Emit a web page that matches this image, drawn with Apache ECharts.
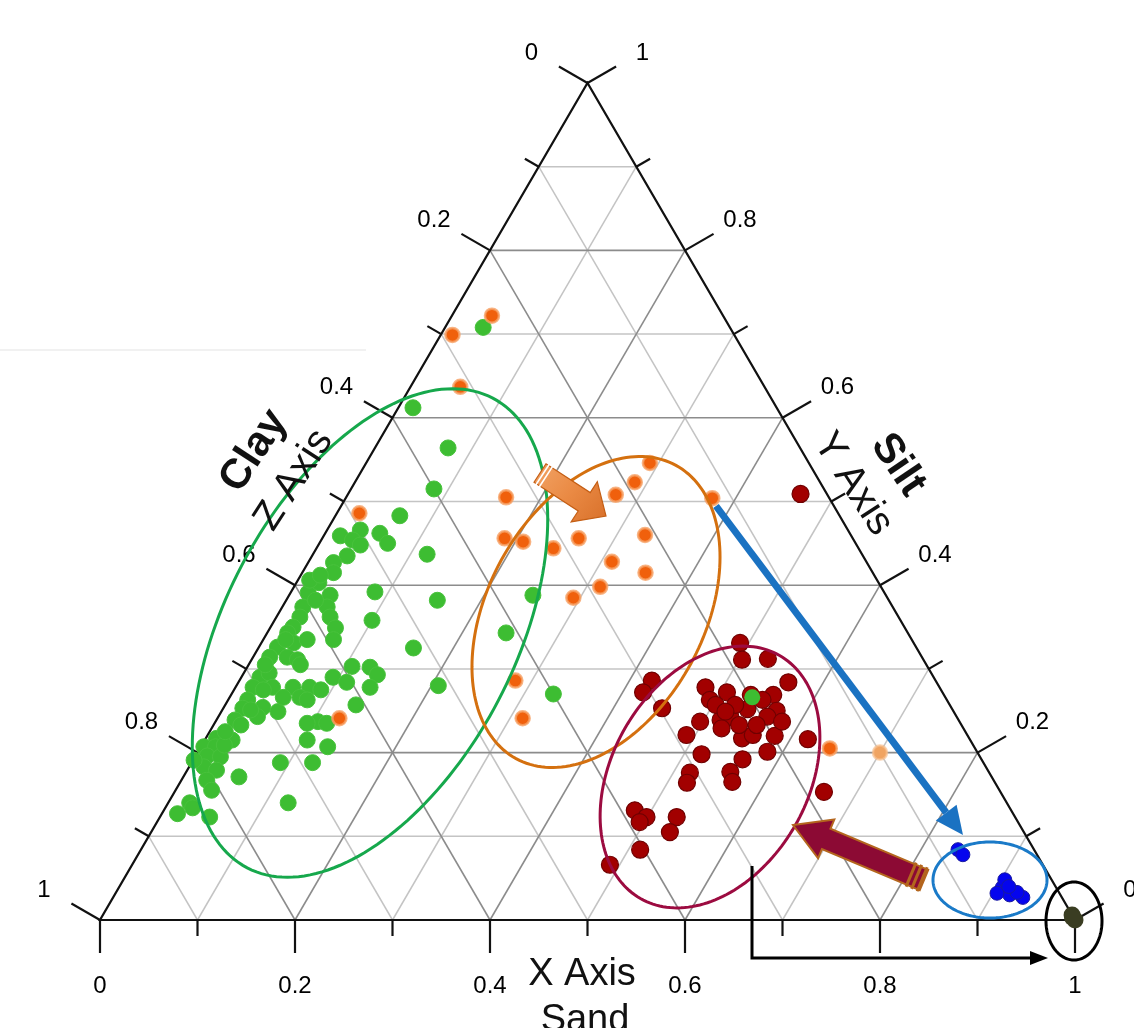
<!DOCTYPE html>
<html><head><meta charset="utf-8">
<script src="https://cdn.jsdelivr.net/npm/echarts@6/dist/echarts.min.js"></script>
<style>html,body{margin:0;padding:0;background:#fff}#c{width:1134px;height:1028px}</style>
</head><body><div id="c"></div>
<script>
// ---- Ternary data: [Sand, Silt] (Clay = 1 - Sand - Silt) ----
const tickValues = [0,0.1,0.2,0.3,0.4,0.5,0.6,0.7,0.8,0.9,1];
const gridValues = [0.1,0.2,0.3,0.4,0.5,0.6,0.7,0.8,0.9];
const labelValues = [0,0.2,0.4,0.6,0.8,1];
const labelTexts = ['0','0.2','0.4','0.6','0.8','1'];

const greenPoints = [
[0.039,0.708],[0.015,0.612],[0.075,0.564],[0.085,0.515],[0.066,0.483],[0.017,0.459],[0.034,0.466],[0.032,0.454],
[0.056,0.462],[0.070,0.450],[0.036,0.435],[0.026,0.427],[0.032,0.415],[0.117,0.437],[0.018,0.391],[0.042,0.388],
[0.086,0.392],[0.155,0.382],[0.250,0.388],[0.245,0.343],[0.021,0.374],[0.046,0.374],[0.024,0.362],[0.055,0.362],
[0.100,0.358],[0.023,0.350],[0.067,0.349],[0.072,0.335],[0.021,0.343],[0.019,0.326],[0.033,0.331],[0.045,0.335],
[0.159,0.325],[0.017,0.314],[0.035,0.314],[0.107,0.303],[0.126,0.302],[0.094,0.290],[0.111,0.284],[0.138,0.293],
[0.138,0.278],[0.207,0.280],[0.330,0.270],[0.019,0.290],[0.026,0.295],[0.018,0.278],[0.038,0.278],[0.059,0.278],
[0.076,0.278],[0.072,0.266],[0.020,0.263],[0.020,0.253],[0.040,0.254],[0.058,0.249],[0.040,0.243],[0.081,0.263],
[0.134,0.257],[0.105,0.237],[0.115,0.235],[0.105,0.215],[0.130,0.207],[0.011,0.217],[0.028,0.215],[0.003,0.207],
[0.015,0.207],[0.012,0.196],[0.026,0.195],[0.015,0.183],[0.030,0.179],[0.026,0.167],[0.057,0.171],[0.091,0.188],
[0.124,0.188],[0.037,0.155],[0.022,0.140],[0.016,0.127],[0.051,0.123],[0.123,0.140],[0.023,0.403],[0.047,0.311],
[0.030,0.275],[0.055,0.266],[0.019,0.239],[0.001,0.191],[0.023,0.209],[0.012,0.406],[0.029,0.251],[0.095,0.235],
[0.028,0.134],[0.020,0.412],[0.030,0.382],[0.023,0.335],[0.053,0.305],[0.017,0.305],[0.028,0.233],[0.016,0.225],
[0.089,0.275],[0.043,0.448]
];
const greenInRed = [[0.536,0.266]];
const orangePoints = [
[0.012,0.699],[0.041,0.722],[0.051,0.637],[0.023,0.486],[0.164,0.505],[0.291,0.546],[0.287,0.523],[0.275,0.508],
[0.376,0.504],[0.187,0.456],[0.208,0.452],[0.243,0.444],[0.263,0.456],[0.329,0.460],[0.311,0.428],[0.352,0.415],
[0.314,0.398],[0.293,0.385],[0.283,0.286],[0.313,0.241],[0.125,0.241],[0.646,0.205]
];
const tanPoints = [[0.700,0.200]];
const redPoints = [
[0.491,0.331],[0.503,0.311],[0.529,0.312],[0.423,0.286],[0.421,0.272],[0.450,0.253],[0.482,0.278],[0.494,0.263],
[0.507,0.272],[0.564,0.284],[0.556,0.269],[0.569,0.250],[0.517,0.239],[0.525,0.243],[0.538,0.252],[0.563,0.243],
[0.491,0.221],[0.550,0.217],[0.559,0.221],[0.582,0.220],[0.584,0.201],[0.618,0.216],[0.518,0.198],[0.563,0.192],
[0.558,0.177],[0.517,0.176],[0.520,0.164],[0.566,0.165],[0.666,0.153],[0.483,0.131],[0.499,0.123],[0.495,0.117],
[0.530,0.123],[0.532,0.105],[0.512,0.084],[0.490,0.066],[0.464,0.509],[0.503,0.257],[0.523,0.257],[0.517,0.249],
[0.539,0.233],[0.557,0.233],[0.497,0.237],[0.548,0.263],[0.581,0.237],[0.523,0.229],[0.533,0.269]
];
const bluePoints = [[0.838,0.084],[0.846,0.078],[0.906,0.039],[0.918,0.030],[0.933,0.027],[0.904,0.032],[0.904,0.048],[0.924,0.033],[0.912,0.040]];
const olivePoints = [[1.0,0.0],[0.994,0.006],[0.996,0.003]];

const toXY = p => [p[0] + p[1] / 2, p[1]];

// ---- frame, grid, ticks, labels drawn through the cartesian scales ----
function renderFrame(params, api) {
  const P = (sand, silt) => api.coord([sand + silt / 2, silt]);
  const minor = [], major = [];
  gridValues.forEach(v => {
    const isMajor = Math.abs(v * 5 - Math.round(v * 5)) < 1e-6;
    const arr = isMajor ? major : minor;
    arr.push([P(0, v), P(1 - v, v)]);       // constant silt
    arr.push([P(v, 0), P(v, 1 - v)]);       // constant sand
    arr.push([P(1 - v, 0), P(0, 1 - v)]);   // constant clay
  });
  const children = [];
  const mkLine = (a, b, stroke, w) => ({type: 'line', shape: {x1: a[0], y1: a[1], x2: b[0], y2: b[1]}, style: {stroke: stroke, lineWidth: w}});
  minor.forEach(s => children.push(mkLine(s[0], s[1], '#c4c4c4', 1.5)));
  major.forEach(s => children.push(mkLine(s[0], s[1], '#8c8c8c', 1.6)));
  const A = P(0, 0), B = P(1, 0), C = P(0, 1);
  children.push({type: 'polygon', shape: {points: [A, B, C]}, style: {fill: 'none', stroke: '#111', lineWidth: 2.2}});
  const c30 = Math.cos(Math.PI / 6), s30 = 0.5;
  tickValues.forEach(v => {
    const isMajor = Math.abs(v * 5 - Math.round(v * 5)) < 1e-6;
    const L = isMajor ? 33 : 16;
    const pb = P(v, 0);
    children.push(mkLine(pb, [pb[0], pb[1] + L], '#111', 2.2));
    const pl = P(0, 1 - v);
    children.push(mkLine(pl, [pl[0] - L * c30, pl[1] - L * s30], '#111', 2.2));
    const pr = P(1 - v, v);
    children.push(mkLine(pr, [pr[0] + L * c30, pr[1] - L * s30], '#111', 2.2));
  });
  const font = '24px "Liberation Sans", Arial, sans-serif';
  const txt = (x, y, t) => ({type: 'text', x: x, y: y, style: {text: t, font: font, fill: '#000', align: 'center', verticalAlign: 'middle', textAlign: 'center', textVerticalAlign: 'middle'}});
  labelValues.forEach((v, i) => {
    const pb = P(v, 0);
    children.push(txt(pb[0], pb[1] + 66, labelTexts[i]));
    const pl = P(0, 1 - v);
    children.push(txt(pl[0] - 56, pl[1] - 30, labelTexts[i]));
    const pr = P(1 - v, v);
    children.push(txt(pr[0] + 55, pr[1] - 30, labelTexts[i]));
  });
  return {type: 'group', children: children};
}

// ---- annotation helpers (pixel-space overlay) ----
function ellipsePts(cx, cy, a, b, deg) {
  const th = deg * Math.PI / 180, pts = [];
  for (let i = 0; i < 180; i++) {
    const t = i / 180 * 2 * Math.PI;
    pts.push([cx + a * Math.cos(t) * Math.cos(th) - b * Math.sin(t) * Math.sin(th),
              cy + a * Math.cos(t) * Math.sin(th) + b * Math.sin(t) * Math.cos(th)]);
  }
  return pts;
}
function ellipseEl(cx, cy, a, b, deg, color) {
  return {type: 'polygon', z: 100, silent: true, shape: {points: ellipsePts(cx, cy, a, b, deg)}, style: {fill: 'none', stroke: color, lineWidth: 3}};
}
function arrowPoly(tail, tip, bh, hh, hl) {
  const dx = tip[0] - tail[0], dy = tip[1] - tail[1], len = Math.hypot(dx, dy);
  const d = [dx / len, dy / len], n = [-d[1], d[0]];
  const base = [tip[0] - d[0] * hl, tip[1] - d[1] * hl];
  const f = (p, k) => [p[0] + n[0] * k, p[1] + n[1] * k];
  return {pts: [f(tail, bh), f(base, bh), f(base, hh), tip, f(base, -hh), f(base, -bh), f(tail, -bh)], d: d, n: n, base: base};
}
function stripes(tail, ar, offs, half, color, w) {
  return offs.map(o => {
    const c = [tail[0] + ar.d[0] * o, tail[1] + ar.d[1] * o];
    return {type: 'line', z: 102, silent: true, shape: {x1: c[0] + ar.n[0] * half, y1: c[1] + ar.n[1] * half, x2: c[0] - ar.n[0] * half, y2: c[1] - ar.n[1] * half}, style: {stroke: color, lineWidth: w}};
  });
}

const chart = echarts.init(document.getElementById('c'), null, {renderer: 'canvas'});

const orangeTail = [540, 473], orangeTip = [606, 516];
const oa = arrowPoly(orangeTail, orangeTip, 11, 24, 26);
const redTail = [924, 880], redTip = [793, 825];
const ra = arrowPoly(redTail, redTip, 11, 21, 36);
const blueStart = [716, 506], blueTip = [963, 835];
const bdx = blueTip[0] - blueStart[0], bdy = blueTip[1] - blueStart[1], blen = Math.hypot(bdx, bdy);
const bd = [bdx / blen, bdy / blen], bn = [-bd[1], bd[0]];
const bBase = [blueTip[0] - bd[0] * 28, blueTip[1] - bd[1] * 28];

const fontFam = '"Liberation Sans", Arial, sans-serif';
const textEl = (x, y, t, size, weight, rotDeg) => ({
  type: 'text', x: x, y: y, rotation: (rotDeg || 0) * Math.PI / 180, z: 110, silent: true,
  style: {text: t, font: (weight || 'normal') + ' ' + size + 'px ' + fontFam, fill: '#111', align: 'center', verticalAlign: 'middle', textAlign: 'center', textVerticalAlign: 'middle'}
});

const graphics = [
  {type: 'line', z: 1, silent: true, shape: {x1: 0, y1: 350, x2: 366, y2: 350}, style: {stroke: '#ececec', lineWidth: 1.5}},
  ellipseEl(370, 633, 265, 145, -62.4, '#16a84c'),
  ellipseEl(596, 612, 167, 108, -61.4, '#d4700f'),
  ellipseEl(710, 777, 140, 98, -60.2, '#9c0b40'),
  ellipseEl(990, 880, 57, 38, 0, '#1a7ac8'),
  ellipseEl(1074, 921, 28, 39, 0, '#000'),
  // blue arrow
  {type: 'line', z: 101, silent: true, shape: {x1: blueStart[0], y1: blueStart[1], x2: bBase[0], y2: bBase[1]}, style: {stroke: '#1a72c2', lineWidth: 7}},
  {type: 'polygon', z: 101, silent: true, shape: {points: [blueTip, [bBase[0] + bn[0] * 13, bBase[1] + bn[1] * 13], [bBase[0] - bn[0] * 13, bBase[1] - bn[1] * 13]]}, style: {fill: '#1a72c2'}},
  // orange block arrow
  {type: 'polygon', z: 101, silent: true, shape: {points: oa.pts}, style: {
    fill: new echarts.graphic.LinearGradient(0, 0, 1, 1, [{offset: 0, color: '#f2a466'}, {offset: 0.5, color: '#ea8a44'}, {offset: 1, color: '#d8702a'}]),
    stroke: '#c45e14', lineWidth: 1.2}},
  ...stripes(orangeTail, oa, [3, 7], 13, '#ffffff', 1.6),
  // crimson block arrow
  {type: 'polygon', z: 101, silent: true, shape: {points: ra.pts}, style: {fill: '#8c0a34', stroke: '#b4661e', lineWidth: 2}},
  ...stripes(redTail, ra, [2, 8, 14], 13, '#b4661e', 3),
  // black elbow arrow
  {type: 'polyline', z: 101, silent: true, shape: {points: [[752, 866], [752, 958], [1032, 958]]}, style: {stroke: '#000', lineWidth: 3, fill: null}},
  {type: 'polygon', z: 101, silent: true, shape: {points: [[1048, 958], [1030, 951], [1030, 965]]}, style: {fill: '#000'}},
  // axis titles
  textEl(254, 451, 'Clay', 42, 'bold', 57),
  textEl(294, 480, 'Z Axis', 40, 'normal', 57),
  textEl(898, 465, 'Silt', 42, 'bold', -56),
  textEl(853, 484, 'Y Axis', 40, 'normal', -57),
  textEl(582, 975, 'X Axis', 38, 'normal', 0),
  {type: 'text', x: 585, y: 1002, z: 110, silent: true, style: {text: 'Sand', font: 'normal 38px ' + fontFam, fill: '#111', align: 'center', verticalAlign: 'top', textAlign: 'center', textVerticalAlign: 'top'}}
];

const option = {
  animation: false,
  backgroundColor: '#ffffff',
  grid: {left: 100, right: 59, top: 83, bottom: 108},
  xAxis: {type: 'value', min: 0, max: 1, show: false},
  yAxis: {type: 'value', min: 0, max: 1, show: false},
  graphic: graphics,
  series: [
    {type: 'custom', coordinateSystem: 'cartesian2d', data: [[0, 0]], renderItem: renderFrame, silent: true, z: 1, clip: false},
    {type: 'scatter', data: greenPoints.map(toXY), symbolSize: 16, z: 3, silent: true,
      itemStyle: {color: '#3dbd32', borderColor: '#48c23c', borderWidth: 1, opacity: 1}},
    {type: 'scatter', data: orangePoints.map(toXY), symbolSize: 14, z: 4, silent: true,
      itemStyle: {color: '#f0600c', borderColor: 'rgba(246,160,100,0.8)', borderWidth: 2.5, opacity: 1}},
    {type: 'scatter', data: tanPoints.map(toXY), symbolSize: 14, z: 4, silent: true,
      itemStyle: {color: '#f0a462', borderColor: 'rgba(246,190,140,0.7)', borderWidth: 2.5, opacity: 1}},
    {type: 'scatter', data: redPoints.map(toXY), symbolSize: 17, z: 5, silent: true,
      itemStyle: {color: '#a20000', borderColor: '#700000', borderWidth: 1.2, opacity: 1}},
    {type: 'scatter', data: greenInRed.map(toXY), symbolSize: 16, z: 6, silent: true,
      itemStyle: {color: '#3dbd32', opacity: 1}},
    {type: 'scatter', data: bluePoints.map(toXY), symbolSize: 14, z: 5, silent: true,
      itemStyle: {color: '#0505ee', borderColor: '#1a1aa0', borderWidth: 1, opacity: 1}},
    {type: 'scatter', data: olivePoints.map(toXY), symbolSize: 17, z: 5, silent: true,
      itemStyle: {color: '#3a3d22', opacity: 1}}
  ]
};
chart.setOption(option);
</script>
</body></html>
